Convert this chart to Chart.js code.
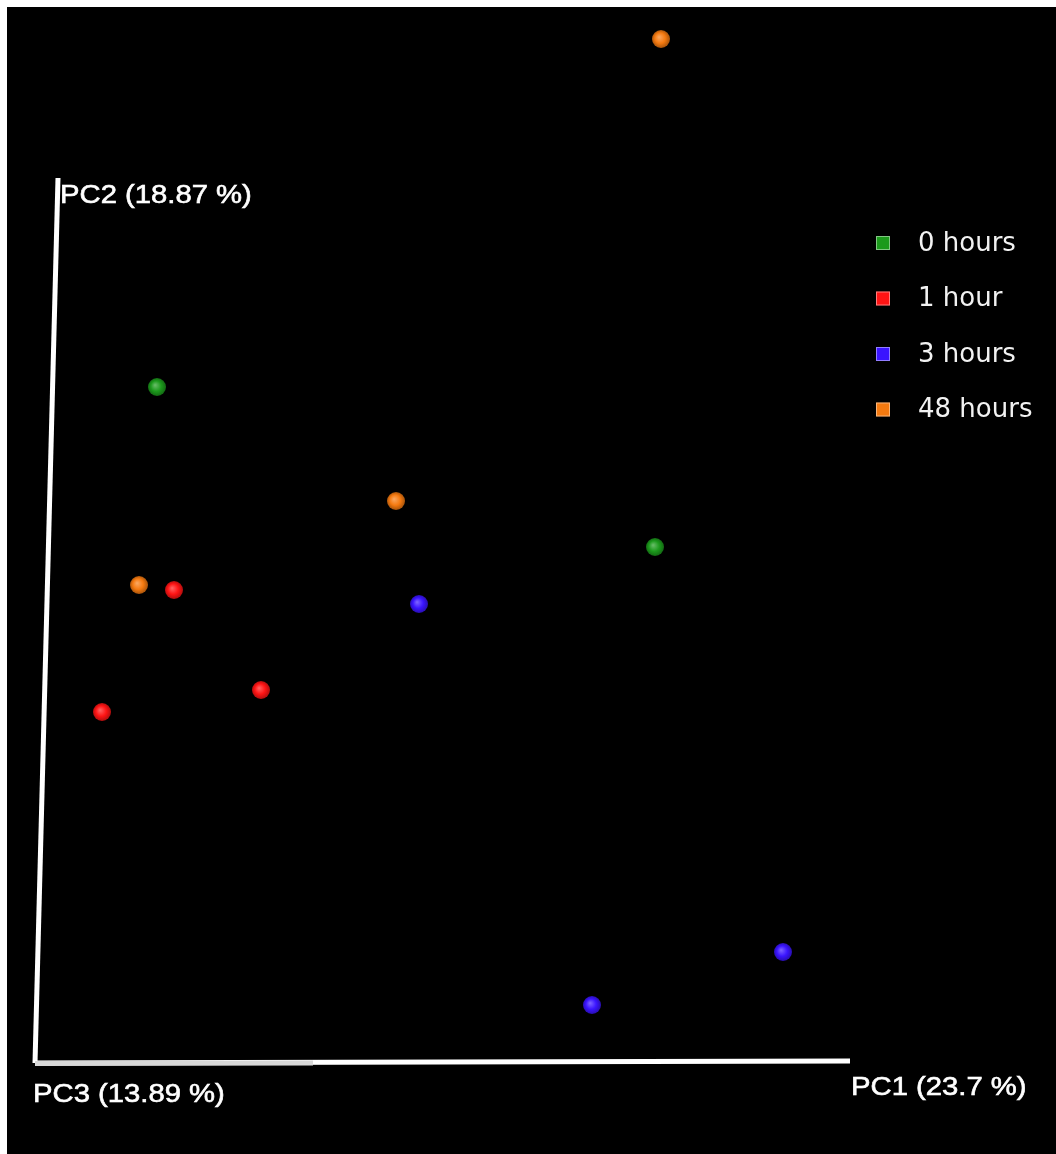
<!DOCTYPE html>
<html>
<head>
<meta charset="utf-8">
<script src="https://cdn.jsdelivr.net/npm/chart.js@4/dist/chart.umd.min.js"></script>
<style>
  html, body { margin: 0; padding: 0; background: #fff; }
  #wrap { position: absolute; left: 7px; top: 7px; width: 1049px; height: 1147px; background: #000; }
</style>
</head>
<body>
<div id="wrap"><canvas id="pcoa"></canvas></div>
<script>
// projected PCoA coordinates (screen units of the 3D view, y grows downward)
var groupNames = ['0 hours', '1 hour', '3 hours', '48 hours'];
var groupColors = ['#1c9a1c', '#ff1414', '#3a14ff', '#f57a10'];
var hours0 = [{x: 150, y: 380}, {x: 648, y: 540}];
var hours1 = [{x: 167, y: 583}, {x: 254, y: 683}, {x: 95, y: 705}];
var hours3 = [{x: 412, y: 597}, {x: 776, y: 945}, {x: 585, y: 998}];
var hours48 = [{x: 654, y: 32}, {x: 389, y: 494}, {x: 132, y: 578}];

var axisNames = ['PC1 (23.7 %)', 'PC2 (18.87 %)', 'PC3 (13.89 %)'];
var axisPC1 = [{x: 28, y: 1056}, {x: 843, y: 1054}];
var axisPC2 = [{x: 28, y: 1056}, {x: 51, y: 171}];
var axisPC3 = [{x: 28, y: 1056.5}, {x: 306, y: 1056}];

function shade(hex, amt) {
    var n = parseInt(hex.slice(1), 16);
    var r = n >> 16, g = (n >> 8) & 255, b = n & 255;
    function f(c) { return Math.max(0, Math.min(255, Math.round(amt > 0 ? c + (255 - c) * amt : c * (1 + amt)))); }
    return 'rgb(' + f(r) + ',' + f(g) + ',' + f(b) + ')';
}

function sphere(color) {
    return function(ctx) {
        var chart = ctx.chart;
        if (!ctx.raw || !chart.scales.x) return color;
        var px = chart.scales.x.getPixelForValue(ctx.raw.x);
        var py = chart.scales.y.getPixelForValue(ctx.raw.y);
        if (!isFinite(px) || !isFinite(py)) return color;
        var g = chart.ctx.createRadialGradient(px - 2, py - 2, 0, px, py, 9.5);
        g.addColorStop(0, shade(color, 0.35));
        g.addColorStop(0.55, color);
        g.addColorStop(1, shade(color, -0.35));
        return g;
    };
}

var seriesData = [hours0, hours1, hours3, hours48];
var datasets = seriesData.map(function(pts, i) {
    return {
        type: 'scatter',
        label: groupNames[i],
        data: pts,
        legendColor: groupColors[i],
        backgroundColor: sphere(groupColors[i]),
        borderWidth: 0,
        pointRadius: 9,
        order: 0
    };
});

function axisLine(pts, color) {
    return {
        type: 'line',
        label: '',
        data: pts,
        borderColor: color,
        borderWidth: 5,
        pointRadius: 0,
        fill: false,
        order: 1
    };
}
datasets.push(axisLine(axisPC3, '#d8d8d8'));
datasets.push(axisLine(axisPC1, '#ffffff'));
datasets.push(axisLine(axisPC2, '#ffffff'));

// text drawn a bit wider than the font, like the original 3D viewer snapshot
function wideText(c, text, x, y) {
    c.save();
    c.translate(x, y);
    c.scale(1.17, 1);
    c.lineWidth = 0.6;
    c.strokeStyle = '#ffffff';
    c.strokeText(text, 0, 0);
    c.fillText(text, 0, 0);
    c.restore();
}

var overlay = {
    id: 'overlay',
    afterDatasetsDraw: function(chart) {
        var c = chart.ctx, sx = chart.scales.x, sy = chart.scales.y;
        c.save();
        c.fillStyle = '#ffffff';
        c.textAlign = 'left';
        c.textBaseline = 'middle';
        c.font = '25px "Liberation Sans", Arial, sans-serif';
        var end1 = axisPC1[1], end2 = axisPC2[1], org = axisPC3[0];
        wideText(c, axisNames[0], sx.getPixelForValue(end1.x) + 1, sy.getPixelForValue(end1.y) + 27);
        wideText(c, axisNames[1], sx.getPixelForValue(end2.x) + 2, sy.getPixelForValue(end2.y) + 18);
        wideText(c, axisNames[2], sx.getPixelForValue(org.x) - 2, sy.getPixelForValue(org.y) + 32);

        // legend
        c.font = '26px "DejaVu Sans", Verdana, sans-serif';
        var lx = 869, ly = 236, step = 55.5;
        chart.data.datasets.forEach(function(ds, i) {
            if (!ds.legendColor) return;
            var y = ly + i * step;
            c.fillStyle = ds.legendColor;
            c.fillRect(lx, y - 7, 14, 14);
            c.strokeStyle = 'rgba(255,255,255,0.45)';
            c.lineWidth = 1;
            c.strokeRect(lx + 0.5, y - 6.5, 13, 13);
            c.fillStyle = '#f2f2f2';
            c.fillText(ds.label, lx + 42, y + 1);
        });
        c.restore();
    }
};

new Chart(document.getElementById('pcoa').getContext('2d'), {
    type: 'scatter',
    data: { datasets: datasets },
    options: {
        responsive: true,
        maintainAspectRatio: false,
        animation: false,
        layout: { padding: 0, autoPadding: false },
        scales: {
            x: { type: 'linear', min: 0, max: 1049, display: false },
            y: { type: 'linear', min: 0, max: 1147, reverse: true, display: false }
        },
        plugins: {
            legend: { display: false },
            tooltip: { enabled: false }
        }
    },
    plugins: [overlay]
});
</script>
</body>
</html>
